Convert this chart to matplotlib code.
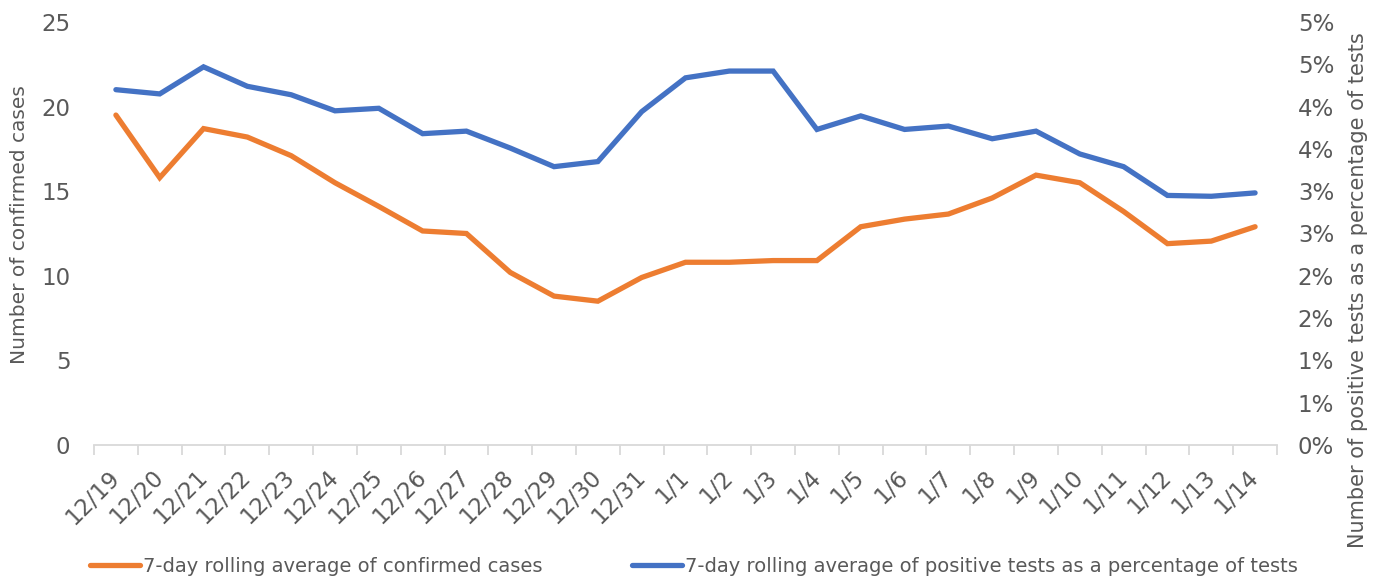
import matplotlib
matplotlib.use("Agg")
import matplotlib.pyplot as plt
from matplotlib.ticker import FuncFormatter, FixedLocator, MultipleLocator
from matplotlib.lines import Line2D
import matplotlib.transforms as mtransforms
import math

dates = ["12/19", "12/20", "12/21", "12/22", "12/23", "12/24", "12/25", "12/26", "12/27",
         "12/28", "12/29", "12/30", "12/31", "1/1", "1/2", "1/3", "1/4", "1/5", "1/6",
         "1/7", "1/8", "1/9", "1/10", "1/11", "1/12", "1/13", "1/14"]
cases = [19.5, 15.8, 18.7, 18.2, 17.1, 15.5, 14.1, 12.65, 12.5, 10.2, 8.8, 8.5, 9.9,
         10.8, 10.8, 10.9, 10.9, 12.9, 13.35, 13.65, 14.6, 15.95, 15.5, 13.8, 11.9, 12.05, 12.9]
pos_pct = [4.2, 4.15, 4.47, 4.24, 4.14, 3.95, 3.98, 3.68, 3.71, 3.51, 3.29, 3.35, 3.94,
           4.34, 4.42, 4.42, 3.73, 3.89, 3.73, 3.77, 3.62, 3.71, 3.44, 3.29, 2.95, 2.94, 2.98]

plt.rcParams['font.family'] = ['DejaVu Sans']
TXT = '#595959'
ORANGE = '#ED7D31'
BLUE = '#4472C4'

fig = plt.figure(figsize=(13.86, 5.79), dpi=100)
ax = fig.add_axes([94/1386, 1-445/579, (1277-94)/1386, (445-22)/579])
ax2 = ax.twinx()

x = list(range(len(dates)))
ax.plot(x, cases, color=ORANGE, lw=3.8, solid_capstyle='round', solid_joinstyle='miter', zorder=3)
ax2.plot(x, pos_pct, color=BLUE, lw=3.8, solid_capstyle='round', solid_joinstyle='miter', zorder=3)

ax.set_xlim(-0.5, len(dates) - 0.5)
ax.set_ylim(0, 25)
ax2.set_ylim(0, 5)
ax.yaxis.set_major_locator(MultipleLocator(5))
ax2.yaxis.set_major_locator(MultipleLocator(0.5))
ax2.yaxis.set_major_formatter(FuncFormatter(lambda v, p: f"{int(math.floor(v + 0.5 + 1e-9))}%"))

for a in (ax, ax2):
    for s in ('top', 'left', 'right', 'bottom'):
        a.spines[s].set_visible(False)
ax.spines['bottom'].set_visible(True)
ax.spines['bottom'].set_color('#D9D9D9')
ax.spines['bottom'].set_linewidth(1.3)

ax.set_xticks(x)
ax.set_xticklabels(dates, rotation=45, ha='right', va='top', rotation_mode='anchor')
ax.xaxis.set_minor_locator(FixedLocator([i - 0.5 for i in range(len(dates) + 1)]))
ax.tick_params(axis='x', which='major', length=0, pad=12, labelsize=16.5, labelcolor=TXT)
ax.tick_params(axis='x', which='minor', length=7, width=1.3, color='#D9D9D9')
ax.tick_params(axis='y', length=0, labelsize=16.5, labelcolor=TXT, pad=17)
ax2.tick_params(axis='y', length=0, labelsize=16.5, labelcolor=TXT, pad=15)

offset = mtransforms.ScaledTranslation(-8/100, -4/100, fig.dpi_scale_trans)
for lbl in ax.get_xticklabels():
    lbl.set_transform(lbl.get_transform() + offset)

ax.set_ylabel("Number of confirmed cases", fontsize=14.5, color=TXT)
ax.yaxis.set_label_coords(-(94 - 19) / (1277 - 94), 0.52)
ax2.set_ylabel("Number of positive tests as a percentage of tests", fontsize=15, color=TXT)
ax2.yaxis.set_label_coords((1358 - 94) / (1277 - 94), (445 - 290) / 423)
ax2.yaxis.label.set_va('center')
ax.yaxis.label.set_va('center')

handles = [Line2D([], [], color=ORANGE, lw=3.8, solid_capstyle='round'),
           Line2D([], [], color=BLUE, lw=3.8, solid_capstyle='round')]
labels = ["7-day rolling average of confirmed cases",
          "7-day rolling average of positive tests as a percentage of tests"]
leg = fig.legend(handles, labels, loc='center left', bbox_to_anchor=(72/1386, 1-566/579), ncol=2,
                 frameon=False, fontsize=14, handlelength=2.6, handletextpad=0.15,
                 columnspacing=4.6, labelcolor=TXT)

fig.savefig("out.png", dpi=100)
